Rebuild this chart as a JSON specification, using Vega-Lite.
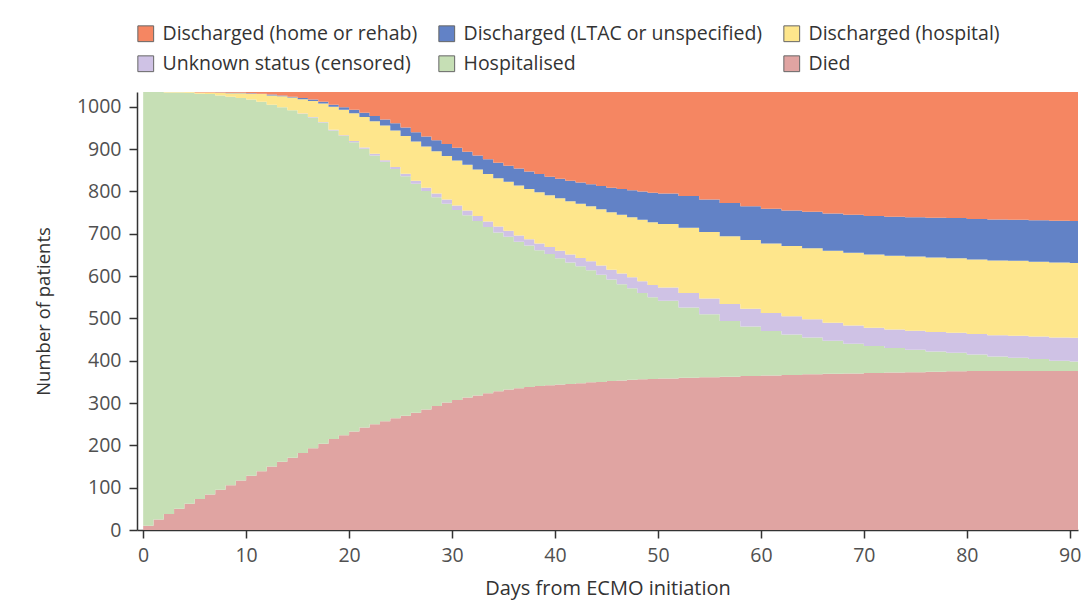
{
  "$schema": "https://vega.github.io/schema/vega-lite/v6.json",
  "width": 941,
  "height": 438,
  "autosize": {"type": "none"},
  "padding": {"left": 137, "top": 92, "right": 13, "bottom": 83},
  "background": "white",
  "config": {
    "view": {"stroke": null},
    "font": "Open Sans",
    "axis": {
      "grid": false,
      "domainColor": "#333333",
      "domainWidth": 1.5,
      "tickColor": "#333333",
      "tickWidth": 1.5,
      "tickSize": 8,
      "labelFont": "Open Sans",
      "labelFontSize": 19.5,
      "labelColor": "#505050",
      "titleFont": "Open Sans",
      "titleFontWeight": "normal",
      "titleColor": "#333333"
    },
    "legend": {
      "labelFont": "Open Sans",
      "labelFontSize": 19.5,
      "labelColor": "#333333",
      "labelLimit": 400
    }
  },
  "data": {
    "values": [
      {"day": 0, "Died": 10, "Hospitalised": 1025, "Unknown status (censored)": 0, "Discharged (hospital)": 0, "Discharged (LTAC or unspecified)": 0, "Discharged (home or rehab)": 0},
      {"day": 1, "Died": 25, "Hospitalised": 1010, "Unknown status (censored)": 0, "Discharged (hospital)": 0, "Discharged (LTAC or unspecified)": 0, "Discharged (home or rehab)": 0},
      {"day": 2, "Died": 38, "Hospitalised": 996, "Unknown status (censored)": 0, "Discharged (hospital)": 1, "Discharged (LTAC or unspecified)": 0, "Discharged (home or rehab)": 0},
      {"day": 3, "Died": 50, "Hospitalised": 984, "Unknown status (censored)": 0, "Discharged (hospital)": 1, "Discharged (LTAC or unspecified)": 0, "Discharged (home or rehab)": 0},
      {"day": 4, "Died": 62, "Hospitalised": 971, "Unknown status (censored)": 0, "Discharged (hospital)": 2, "Discharged (LTAC or unspecified)": 0, "Discharged (home or rehab)": 0},
      {"day": 5, "Died": 73, "Hospitalised": 958, "Unknown status (censored)": 0, "Discharged (hospital)": 3, "Discharged (LTAC or unspecified)": 0, "Discharged (home or rehab)": 1},
      {"day": 6, "Died": 84, "Hospitalised": 946, "Unknown status (censored)": 0, "Discharged (hospital)": 4, "Discharged (LTAC or unspecified)": 0, "Discharged (home or rehab)": 1},
      {"day": 7, "Died": 95, "Hospitalised": 932, "Unknown status (censored)": 0, "Discharged (hospital)": 6, "Discharged (LTAC or unspecified)": 1, "Discharged (home or rehab)": 1},
      {"day": 8, "Died": 106, "Hospitalised": 918, "Unknown status (censored)": 0, "Discharged (hospital)": 8, "Discharged (LTAC or unspecified)": 1, "Discharged (home or rehab)": 2},
      {"day": 9, "Died": 117, "Hospitalised": 904, "Unknown status (censored)": 0, "Discharged (hospital)": 11, "Discharged (LTAC or unspecified)": 1, "Discharged (home or rehab)": 2},
      {"day": 10, "Died": 128, "Hospitalised": 889, "Unknown status (censored)": 0, "Discharged (hospital)": 14, "Discharged (LTAC or unspecified)": 1, "Discharged (home or rehab)": 3},
      {"day": 11, "Died": 139, "Hospitalised": 873, "Unknown status (censored)": 0, "Discharged (hospital)": 18, "Discharged (LTAC or unspecified)": 1, "Discharged (home or rehab)": 4},
      {"day": 12, "Died": 150, "Hospitalised": 855, "Unknown status (censored)": 0, "Discharged (hospital)": 22, "Discharged (LTAC or unspecified)": 2, "Discharged (home or rehab)": 6},
      {"day": 13, "Died": 161, "Hospitalised": 838, "Unknown status (censored)": 0, "Discharged (hospital)": 26, "Discharged (LTAC or unspecified)": 2, "Discharged (home or rehab)": 8},
      {"day": 14, "Died": 171, "Hospitalised": 821, "Unknown status (censored)": 0, "Discharged (hospital)": 30, "Discharged (LTAC or unspecified)": 2, "Discharged (home or rehab)": 11},
      {"day": 15, "Died": 182, "Hospitalised": 801, "Unknown status (censored)": 1, "Discharged (hospital)": 34, "Discharged (LTAC or unspecified)": 3, "Discharged (home or rehab)": 14},
      {"day": 16, "Died": 193, "Hospitalised": 782, "Unknown status (censored)": 1, "Discharged (hospital)": 38, "Discharged (LTAC or unspecified)": 3, "Discharged (home or rehab)": 18},
      {"day": 17, "Died": 204, "Hospitalised": 759, "Unknown status (censored)": 1, "Discharged (hospital)": 44, "Discharged (LTAC or unspecified)": 4, "Discharged (home or rehab)": 23},
      {"day": 18, "Died": 215, "Hospitalised": 729, "Unknown status (censored)": 2, "Discharged (hospital)": 54, "Discharged (LTAC or unspecified)": 5, "Discharged (home or rehab)": 30},
      {"day": 19, "Died": 224, "Hospitalised": 707, "Unknown status (censored)": 2, "Discharged (hospital)": 60, "Discharged (LTAC or unspecified)": 6, "Discharged (home or rehab)": 36},
      {"day": 20, "Died": 233, "Hospitalised": 683, "Unknown status (censored)": 3, "Discharged (hospital)": 66, "Discharged (LTAC or unspecified)": 8, "Discharged (home or rehab)": 42},
      {"day": 21, "Died": 242, "Hospitalised": 659, "Unknown status (censored)": 3, "Discharged (hospital)": 72, "Discharged (LTAC or unspecified)": 10, "Discharged (home or rehab)": 49},
      {"day": 22, "Died": 250, "Hospitalised": 635, "Unknown status (censored)": 4, "Discharged (hospital)": 77, "Discharged (LTAC or unspecified)": 12, "Discharged (home or rehab)": 57},
      {"day": 23, "Died": 257, "Hospitalised": 613, "Unknown status (censored)": 4, "Discharged (hospital)": 82, "Discharged (LTAC or unspecified)": 14, "Discharged (home or rehab)": 65},
      {"day": 24, "Died": 264, "Hospitalised": 589, "Unknown status (censored)": 5, "Discharged (hospital)": 86, "Discharged (LTAC or unspecified)": 17, "Discharged (home or rehab)": 74},
      {"day": 25, "Died": 270, "Hospitalised": 566, "Unknown status (censored)": 6, "Discharged (hospital)": 89, "Discharged (LTAC or unspecified)": 20, "Discharged (home or rehab)": 84},
      {"day": 26, "Died": 277, "Hospitalised": 541, "Unknown status (censored)": 7, "Discharged (hospital)": 93, "Discharged (LTAC or unspecified)": 22, "Discharged (home or rehab)": 95},
      {"day": 27, "Died": 285, "Hospitalised": 516, "Unknown status (censored)": 8, "Discharged (hospital)": 97, "Discharged (LTAC or unspecified)": 24, "Discharged (home or rehab)": 105},
      {"day": 28, "Died": 293, "Hospitalised": 493, "Unknown status (censored)": 9, "Discharged (hospital)": 100, "Discharged (LTAC or unspecified)": 26, "Discharged (home or rehab)": 114},
      {"day": 29, "Died": 301, "Hospitalised": 470, "Unknown status (censored)": 10, "Discharged (hospital)": 103, "Discharged (LTAC or unspecified)": 28, "Discharged (home or rehab)": 123},
      {"day": 30, "Died": 307, "Hospitalised": 449, "Unknown status (censored)": 11, "Discharged (hospital)": 106, "Discharged (LTAC or unspecified)": 30, "Discharged (home or rehab)": 132},
      {"day": 31, "Died": 313, "Hospitalised": 431, "Unknown status (censored)": 11, "Discharged (hospital)": 108, "Discharged (LTAC or unspecified)": 31, "Discharged (home or rehab)": 141},
      {"day": 32, "Died": 318, "Hospitalised": 412, "Unknown status (censored)": 12, "Discharged (hospital)": 110, "Discharged (LTAC or unspecified)": 33, "Discharged (home or rehab)": 150},
      {"day": 33, "Died": 323, "Hospitalised": 393, "Unknown status (censored)": 13, "Discharged (hospital)": 112, "Discharged (LTAC or unspecified)": 35, "Discharged (home or rehab)": 159},
      {"day": 34, "Died": 328, "Hospitalised": 375, "Unknown status (censored)": 14, "Discharged (hospital)": 114, "Discharged (LTAC or unspecified)": 37, "Discharged (home or rehab)": 167},
      {"day": 35, "Died": 332, "Hospitalised": 361, "Unknown status (censored)": 14, "Discharged (hospital)": 116, "Discharged (LTAC or unspecified)": 38, "Discharged (home or rehab)": 174},
      {"day": 36, "Died": 335, "Hospitalised": 346, "Unknown status (censored)": 15, "Discharged (hospital)": 118, "Discharged (LTAC or unspecified)": 40, "Discharged (home or rehab)": 181},
      {"day": 37, "Died": 338, "Hospitalised": 334, "Unknown status (censored)": 15, "Discharged (hospital)": 119, "Discharged (LTAC or unspecified)": 41, "Discharged (home or rehab)": 188},
      {"day": 38, "Died": 340, "Hospitalised": 321, "Unknown status (censored)": 16, "Discharged (hospital)": 121, "Discharged (LTAC or unspecified)": 43, "Discharged (home or rehab)": 194},
      {"day": 39, "Died": 342, "Hospitalised": 310, "Unknown status (censored)": 17, "Discharged (hospital)": 122, "Discharged (LTAC or unspecified)": 44, "Discharged (home or rehab)": 200},
      {"day": 40, "Died": 344, "Hospitalised": 298, "Unknown status (censored)": 18, "Discharged (hospital)": 124, "Discharged (LTAC or unspecified)": 46, "Discharged (home or rehab)": 205},
      {"day": 41, "Died": 345, "Hospitalised": 287, "Unknown status (censored)": 19, "Discharged (hospital)": 126, "Discharged (LTAC or unspecified)": 48, "Discharged (home or rehab)": 210},
      {"day": 42, "Died": 347, "Hospitalised": 276, "Unknown status (censored)": 20, "Discharged (hospital)": 128, "Discharged (LTAC or unspecified)": 50, "Discharged (home or rehab)": 214},
      {"day": 43, "Died": 349, "Hospitalised": 265, "Unknown status (censored)": 21, "Discharged (hospital)": 130, "Discharged (LTAC or unspecified)": 52, "Discharged (home or rehab)": 218},
      {"day": 44, "Died": 350, "Hospitalised": 253, "Unknown status (censored)": 22, "Discharged (hospital)": 133, "Discharged (LTAC or unspecified)": 55, "Discharged (home or rehab)": 222},
      {"day": 45, "Died": 352, "Hospitalised": 240, "Unknown status (censored)": 23, "Discharged (hospital)": 136, "Discharged (LTAC or unspecified)": 58, "Discharged (home or rehab)": 226},
      {"day": 46, "Died": 353, "Hospitalised": 228, "Unknown status (censored)": 25, "Discharged (hospital)": 139, "Discharged (LTAC or unspecified)": 61, "Discharged (home or rehab)": 229},
      {"day": 47, "Died": 355, "Hospitalised": 216, "Unknown status (censored)": 26, "Discharged (hospital)": 142, "Discharged (LTAC or unspecified)": 64, "Discharged (home or rehab)": 232},
      {"day": 48, "Died": 356, "Hospitalised": 204, "Unknown status (censored)": 28, "Discharged (hospital)": 145, "Discharged (LTAC or unspecified)": 67, "Discharged (home or rehab)": 235},
      {"day": 49, "Died": 357, "Hospitalised": 193, "Unknown status (censored)": 29, "Discharged (hospital)": 148, "Discharged (LTAC or unspecified)": 70, "Discharged (home or rehab)": 238},
      {"day": 50, "Died": 358, "Hospitalised": 184, "Unknown status (censored)": 31, "Discharged (hospital)": 150, "Discharged (LTAC or unspecified)": 72, "Discharged (home or rehab)": 240},
      {"day": 52, "Died": 360, "Hospitalised": 166, "Unknown status (censored)": 34, "Discharged (hospital)": 154, "Discharged (LTAC or unspecified)": 75, "Discharged (home or rehab)": 246},
      {"day": 54, "Died": 361, "Hospitalised": 149, "Unknown status (censored)": 37, "Discharged (hospital)": 157, "Discharged (LTAC or unspecified)": 77, "Discharged (home or rehab)": 254},
      {"day": 56, "Died": 362, "Hospitalised": 132, "Unknown status (censored)": 40, "Discharged (hospital)": 160, "Discharged (LTAC or unspecified)": 79, "Discharged (home or rehab)": 262},
      {"day": 58, "Died": 364, "Hospitalised": 117, "Unknown status (censored)": 42, "Discharged (hospital)": 162, "Discharged (LTAC or unspecified)": 80, "Discharged (home or rehab)": 270},
      {"day": 60, "Died": 365, "Hospitalised": 105, "Unknown status (censored)": 43, "Discharged (hospital)": 164, "Discharged (LTAC or unspecified)": 82, "Discharged (home or rehab)": 276},
      {"day": 62, "Died": 366, "Hospitalised": 96, "Unknown status (censored)": 43, "Discharged (hospital)": 166, "Discharged (LTAC or unspecified)": 84, "Discharged (home or rehab)": 280},
      {"day": 64, "Died": 368, "Hospitalised": 87, "Unknown status (censored)": 43, "Discharged (hospital)": 168, "Discharged (LTAC or unspecified)": 86, "Discharged (home or rehab)": 283},
      {"day": 66, "Died": 369, "Hospitalised": 78, "Unknown status (censored)": 43, "Discharged (hospital)": 170, "Discharged (LTAC or unspecified)": 88, "Discharged (home or rehab)": 287},
      {"day": 68, "Died": 370, "Hospitalised": 70, "Unknown status (censored)": 43, "Discharged (hospital)": 172, "Discharged (LTAC or unspecified)": 90, "Discharged (home or rehab)": 290},
      {"day": 70, "Died": 371, "Hospitalised": 64, "Unknown status (censored)": 43, "Discharged (hospital)": 173, "Discharged (LTAC or unspecified)": 91, "Discharged (home or rehab)": 293},
      {"day": 72, "Died": 372, "Hospitalised": 58, "Unknown status (censored)": 44, "Discharged (hospital)": 174, "Discharged (LTAC or unspecified)": 92, "Discharged (home or rehab)": 295},
      {"day": 74, "Died": 373, "Hospitalised": 53, "Unknown status (censored)": 45, "Discharged (hospital)": 175, "Discharged (LTAC or unspecified)": 93, "Discharged (home or rehab)": 296},
      {"day": 76, "Died": 374, "Hospitalised": 48, "Unknown status (censored)": 46, "Discharged (hospital)": 176, "Discharged (LTAC or unspecified)": 94, "Discharged (home or rehab)": 297},
      {"day": 78, "Died": 375, "Hospitalised": 44, "Unknown status (censored)": 47, "Discharged (hospital)": 176, "Discharged (LTAC or unspecified)": 95, "Discharged (home or rehab)": 298},
      {"day": 80, "Died": 376, "Hospitalised": 39, "Unknown status (censored)": 48, "Discharged (hospital)": 176, "Discharged (LTAC or unspecified)": 96, "Discharged (home or rehab)": 300},
      {"day": 82, "Died": 376, "Hospitalised": 34, "Unknown status (censored)": 50, "Discharged (hospital)": 177, "Discharged (LTAC or unspecified)": 97, "Discharged (home or rehab)": 301},
      {"day": 84, "Died": 376, "Hospitalised": 31, "Unknown status (censored)": 52, "Discharged (hospital)": 177, "Discharged (LTAC or unspecified)": 97, "Discharged (home or rehab)": 302},
      {"day": 86, "Died": 376, "Hospitalised": 28, "Unknown status (censored)": 53, "Discharged (hospital)": 177, "Discharged (LTAC or unspecified)": 98, "Discharged (home or rehab)": 303},
      {"day": 88, "Died": 376, "Hospitalised": 24, "Unknown status (censored)": 55, "Discharged (hospital)": 177, "Discharged (LTAC or unspecified)": 99, "Discharged (home or rehab)": 304},
      {"day": 90, "Died": 376, "Hospitalised": 22, "Unknown status (censored)": 56, "Discharged (hospital)": 177, "Discharged (LTAC or unspecified)": 99, "Discharged (home or rehab)": 305},
      {"day": 91, "Died": 376, "Hospitalised": 22, "Unknown status (censored)": 56, "Discharged (hospital)": 177, "Discharged (LTAC or unspecified)": 99, "Discharged (home or rehab)": 305}
    ]
  },
  "transform": [
    {
      "fold": ["Died", "Hospitalised", "Unknown status (censored)", "Discharged (hospital)", "Discharged (LTAC or unspecified)", "Discharged (home or rehab)"],
      "as": ["status", "patients"]
    },
    {
      "lookup": "status",
      "from": {
        "data": {
          "values": [
            {"status": "Died", "layer": 1},
            {"status": "Hospitalised", "layer": 2},
            {"status": "Unknown status (censored)", "layer": 3},
            {"status": "Discharged (hospital)", "layer": 4},
            {"status": "Discharged (LTAC or unspecified)", "layer": 5},
            {"status": "Discharged (home or rehab)", "layer": 6}
          ]
        },
        "key": "status",
        "fields": ["layer"]
      }
    }
  ],
  "mark": {"type": "area", "interpolate": "step-after", "clip": true},
  "encoding": {
    "x": {
      "field": "day",
      "type": "quantitative",
      "scale": {"domain": [-0.6, 90.8], "nice": false, "zero": false},
      "axis": {"values": [0, 10, 20, 30, 40, 50, 60, 70, 80, 90], "title": "Days from ECMO initiation", "titleFontSize": 20, "labelPadding": 8, "titlePadding": 14}
    },
    "y": {
      "field": "patients",
      "type": "quantitative",
      "stack": "zero",
      "scale": {"domain": [0, 1035], "nice": false},
      "axis": {"values": [0, 100, 200, 300, 400, 500, 600, 700, 800, 900, 1000], "format": "d", "title": "Number of patients", "titleFontSize": 18.5, "labelPadding": 8, "titlePadding": 23}
    },
    "color": {
      "field": "status",
      "type": "nominal",
      "sort": ["Discharged (home or rehab)", "Discharged (LTAC or unspecified)", "Discharged (hospital)", "Unknown status (censored)", "Hospitalised", "Died"],
      "scale": {
        "range": ["#F58662", "#6282C6", "#FEE68C", "#CFC2E5", "#C6DFB5", "#E0A4A2"]
      },
      "legend": {
        "title": null,
        "orient": "none",
        "legendX": -1,
        "legendY": -68,
        "direction": "horizontal",
        "columns": 3,
        "gridAlign": "none",
        "columnPadding": 18,
        "rowPadding": 9,
        "symbolType": "square",
        "symbolSize": 250,
        "symbolStrokeColor": "#666666",
        "symbolStrokeWidth": 1,
        "symbolOpacity": 1,
        "labelOffset": 7
      }
    },
    "order": {"field": "layer", "type": "quantitative", "sort": "ascending"}
  }
}
